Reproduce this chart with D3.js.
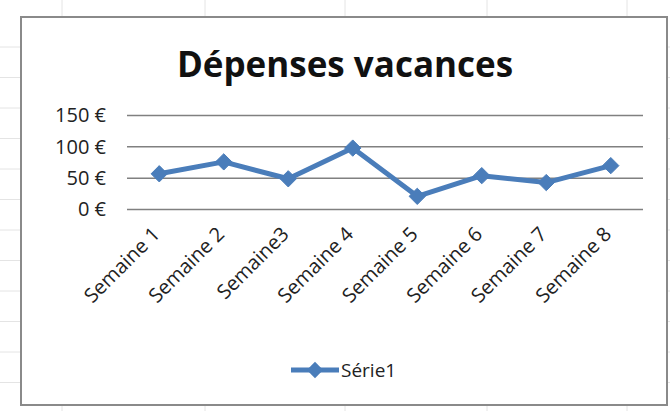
<!DOCTYPE html>
<html>
<head>
<meta charset="utf-8">
<script src="https://cdn.jsdelivr.net/npm/d3@7"></script>
<style>
  html, body { margin: 0; padding: 0; background: #ffffff; }
  svg { display: block; font-family: "Open Sans", "Noto Sans", sans-serif; }
</style>
</head>
<body>
<svg id="chart" width="670" height="411"></svg>
<script>
// Weekly holiday spending
const categories = ["Semaine 1", "Semaine 2", "Semaine3", "Semaine 4", "Semaine 5", "Semaine 6", "Semaine 7", "Semaine 8"];
const values = [57, 76, 49, 98, 21, 54, 43, 70];
const yTicks = [0, 50, 100, 150];
const seriesName = "Série1";
const title = "Dépenses vacances";

const W = 670, H = 411;
const svg = d3.select("#chart");
const blue = "#4A7DBA";

// worksheet cells behind the chart object
const sheet = svg.append("g");
[62, 205, 345, 487, 627].forEach(x => {
  sheet.append("line").attr("x1", x).attr("x2", x).attr("y1", 0).attr("y2", H)
    .attr("stroke", "#e4e4e4").attr("stroke-width", 1);
});
for (let y = 47; y < H; y += 30.5) {
  sheet.append("line").attr("x1", 0).attr("x2", W).attr("y1", y).attr("y2", y)
    .attr("stroke", "#e4e4e4").attr("stroke-width", 1);
}

// chart area
const box = { left: 21, top: 17, right: 667, bottom: 405 };
svg.append("rect")
  .attr("x", box.left).attr("y", box.top)
  .attr("width", box.right - box.left).attr("height", box.bottom - box.top)
  .attr("fill", "#ffffff").attr("stroke", "#8a8a8a").attr("stroke-width", 2);

// title
svg.append("text")
  .attr("x", 345).attr("y", 77)
  .attr("text-anchor", "middle")
  .attr("font-size", 35).attr("font-weight", 700)
  .attr("fill", "#111")
  .text(title);

// scales
const plot = { left: 127, right: 643, top: 115.5, bottom: 209.5 };
const x = d3.scaleBand().domain(categories).range([plot.left, plot.right]);
const y = d3.scaleLinear().domain([0, 150]).range([plot.bottom, plot.top]);

// horizontal gridlines
svg.append("g")
  .selectAll("line").data(yTicks).join("line")
  .attr("x1", plot.left).attr("x2", plot.right)
  .attr("y1", d => y(d)).attr("y2", d => y(d))
  .attr("stroke", "#808080").attr("stroke-width", 1.5);

// value axis
const yAxis = svg.append("g")
  .attr("transform", `translate(${plot.left - 21},0)`)
  .call(d3.axisLeft(y).tickValues(yTicks).tickSize(0).tickPadding(0)
    .tickFormat(d => d + " €"));
yAxis.select(".domain").remove();
yAxis.selectAll("text")
  .attr("font-size", 20).attr("fill", "#222")
  .attr("font-family", "'Open Sans', sans-serif");

// category axis, labels rotated
const xAxis = svg.append("g")
  .attr("transform", `translate(0,${plot.bottom + 21})`)
  .call(d3.axisBottom(x).tickSize(0).tickPadding(0));
xAxis.select(".domain").remove();
xAxis.selectAll("text")
  .attr("font-size", 20).attr("fill", "#222")
  .attr("font-family", "'Open Sans', sans-serif")
  .attr("text-anchor", "end")
  .attr("dy", "0.35em")
  .attr("transform", "translate(-3,0) rotate(-45)");

// series line
const cx = d => x(d) + x.bandwidth() / 2;
const line = d3.line().x((d, i) => cx(categories[i])).y(d => y(d));
svg.append("path")
  .datum(values)
  .attr("d", line)
  .attr("fill", "none")
  .attr("stroke", blue).attr("stroke-width", 5)
  .attr("stroke-linejoin", "round");

// diamond markers
const diamond = d3.symbol().type(d3.symbolDiamond2).size(170);
svg.append("g")
  .selectAll("path").data(values).join("path")
  .attr("d", diamond)
  .attr("transform", (d, i) => `translate(${cx(categories[i])},${y(d)})`)
  .attr("fill", blue).attr("stroke", blue).attr("stroke-width", 1);

// legend
const lg = svg.append("g").attr("transform", "translate(291,370)");
lg.append("line").attr("x1", 0).attr("x2", 48).attr("y1", 0).attr("y2", 0)
  .attr("stroke", blue).attr("stroke-width", 5);
lg.append("path").attr("d", diamond).attr("transform", "translate(24,0)")
  .attr("fill", blue);
lg.append("text").attr("x", 50).attr("y", 0).attr("dy", "0.35em")
  .attr("font-size", 19).attr("fill", "#222")
  .text(seriesName);
</script>
</body>
</html>
